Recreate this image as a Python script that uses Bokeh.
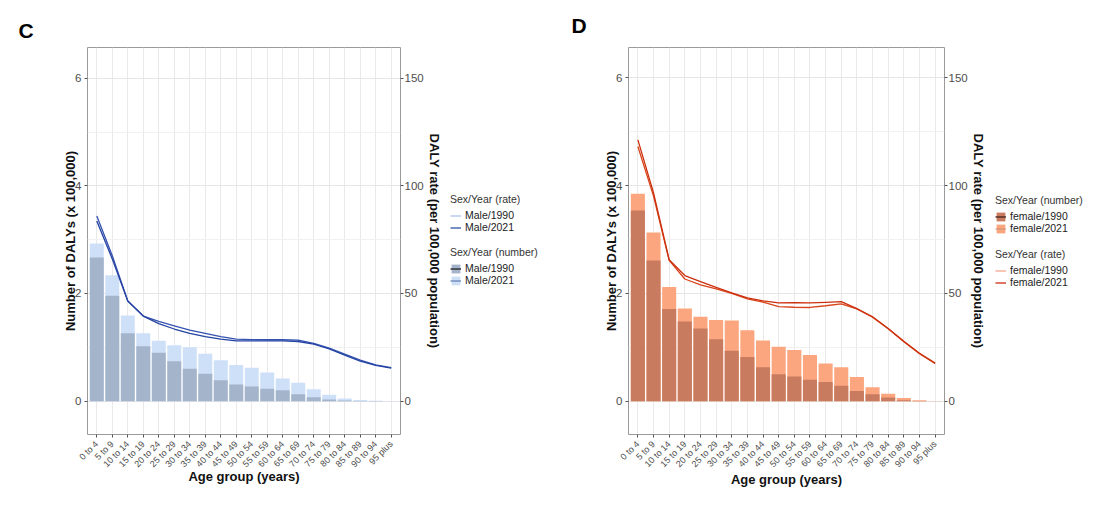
import math
from bokeh.plotting import figure
from bokeh.models import (Range1d, LinearAxis, FixedTicker, Legend, LegendItem,
                          ColumnDataSource, Title)
from bokeh.layouts import row
from bokeh.embed import file_html
from bokeh.resources import INLINE

# ---------------- data ----------------
ages = ["0 to 4", "5 to 9", "10 to 14", "15 to 19", "20 to 24", "25 to 29",
        "30 to 34", "35 to 39", "40 to 44", "45 to 49", "50 to 54", "55 to 59",
        "60 to 64", "65 to 69", "70 to 74", "75 to 79", "80 to 84", "85 to 89",
        "90 to 94", "95 plus"]

# Number of DALYs (x 100,000)
male_num_1990 = [2.67, 1.96, 1.26, 1.02, 0.90, 0.74, 0.60, 0.51, 0.39, 0.31,
                 0.27, 0.23, 0.20, 0.13, 0.07, 0.03, 0.012, 0.004, 0.001, 0.0]
male_num_2021 = [2.93, 2.34, 1.59, 1.26, 1.12, 1.04, 1.00, 0.88, 0.76, 0.67,
                 0.62, 0.53, 0.42, 0.34, 0.22, 0.12, 0.05, 0.02, 0.006, 0.001]
female_num_1990 = [3.54, 2.61, 1.71, 1.48, 1.35, 1.15, 0.94, 0.82, 0.63, 0.50,
                   0.46, 0.40, 0.36, 0.29, 0.19, 0.13, 0.07, 0.02, 0.005, 0.001]
female_num_2021 = [3.85, 3.13, 2.12, 1.72, 1.57, 1.51, 1.50, 1.32, 1.13, 1.01,
                   0.95, 0.86, 0.70, 0.63, 0.45, 0.26, 0.14, 0.06, 0.02, 0.006]

# DALY rate (per 100,000 population)
male_rate_1990 = [86.0, 67.5, 46.5, 39.5, 37.0, 35.0, 33.0, 31.5, 30.0, 28.8,
                  28.6, 28.5, 28.5, 28.3, 26.8, 24.6, 21.8, 19.0, 16.8, 15.6]
male_rate_2021 = [83.7, 66.0, 46.5, 39.5, 36.0, 33.5, 31.5, 30.0, 28.8, 28.0,
                  28.0, 28.0, 28.0, 27.7, 26.5, 24.3, 21.4, 18.6, 16.6, 15.3]
female_rate_1990 = [118.1, 95.1, 65.3, 56.7, 54.0, 52.1, 50.0, 47.5, 46.0, 43.9,
                    43.6, 43.5, 44.3, 45.2, 42.8, 39.0, 33.6, 27.6, 22.1, 17.5]
female_rate_2021 = [121.2, 96.6, 65.6, 58.3, 55.5, 52.8, 50.3, 47.9, 46.6, 45.6,
                    45.7, 45.6, 45.9, 46.2, 43.0, 39.2, 33.8, 27.8, 22.3, 17.7]

left_ticks = [0, 2, 4, 6]
left_minor = [1, 3, 5]
right_ticks = [0, 50, 100, 150]
RATE_FACTOR = 25  # secondary axis: rate = 25 x number

FONT = "Liberation Sans"
TICK_COL = "#4d4d4d"
H = 500


def panel(letter, num90, num21, rate90, rate21, cfg):
    x = list(range(len(ages)))
    src = ColumnDataSource(dict(x=x, n90=num90, n21=num21, r90=rate90, r21=rate21))
    y0, y1 = cfg["yr"]
    p = figure(width=cfg["w"], height=H, output_backend="svg",
               toolbar_location=None,
               x_range=Range1d(-0.6, len(ages) - 1 + 0.6),
               y_range=Range1d(y0, y1),
               min_border_left=cfg["bl"], min_border_right=cfg["br"],
               min_border_top=cfg["bt"], min_border_bottom=cfg["bb"])
    p.extra_y_ranges = {"rate": Range1d(y0 * RATE_FACTOR, y1 * RATE_FACTOR)}
    p.background_fill_color = "white"
    p.border_fill_color = "white"
    p.outline_line_color = "#9a9a9a"
    p.outline_line_width = 1

    t = Title(text=letter, align="left", offset=cfg["toff"], standoff=cfg["tstand"],
              text_font=FONT, text_font_size="21px", text_font_style="bold",
              text_color="#000000")
    p.title = t

    yt = FixedTicker(ticks=left_ticks, minor_ticks=left_minor)
    p.yaxis.ticker = yt
    p.ygrid.ticker = yt
    xt = FixedTicker(ticks=x)
    p.xaxis.ticker = xt
    p.xgrid.ticker = xt
    p.xaxis.major_label_overrides = {i: a for i, a in enumerate(ages)}
    p.xaxis.major_label_orientation = math.pi / 4

    ra = LinearAxis(y_range_name="rate", ticker=FixedTicker(ticks=right_ticks),
                    axis_label="DALY rate (per 100,000 population)")
    p.add_layout(ra, "right")

    for ax in [p.xaxis[0], p.yaxis[0], ra]:
        ax.axis_line_color = None
        ax.major_tick_line_color = "#555555"
        ax.major_tick_in = 0
        ax.major_tick_out = 3
        ax.minor_tick_line_color = None
        ax.major_label_text_font = FONT
        ax.major_label_text_color = TICK_COL
        ax.axis_label_text_font = FONT
        ax.axis_label_text_font_style = "bold"
        ax.axis_label_text_color = "#111111"
        ax.axis_label_text_font_size = "13px"
        ax.major_label_standoff = 2
        ax.axis_label_standoff = 0
    p.yaxis[0].major_label_text_font_size = "11.5px"
    p.yaxis[0].axis_label_standoff = -6
    ra.major_label_text_font_size = "11.5px"
    ra.major_label_standoff = 1
    p.xaxis[0].major_label_text_font_size = "9px"
    p.xaxis[0].major_label_standoff = 5
    p.xaxis[0].axis_label_standoff = cfg["xstand"]
    p.xaxis[0].axis_label = "Age group (years)"
    p.yaxis[0].axis_label = "Number of DALYs (x 100,000)"

    p.xgrid.grid_line_color = "#e9e9e9"
    p.ygrid.grid_line_color = "#e6e6e6"
    p.ygrid.minor_grid_line_color = "#f1f1f1"

    p.vbar(x="x", top="n21", bottom=0, width=0.9, source=src,
           fill_color=cfg["light"], line_color=None)
    p.vbar(x="x", top="n90", bottom=0, width=0.9, source=src,
           fill_color=cfg["dark"], line_color=None)
    p.line(x="x", y="r90", source=src, y_range_name="rate",
           line_color=cfg["line90"], line_width=1.3)
    p.line(x="x", y="r21", source=src, y_range_name="rate",
           line_color=cfg["line21"], line_width=1.3)
    return p


def legend_fig(sex, width, cfg):
    lf = figure(width=width, height=H, output_backend="svg", toolbar_location=None,
                x_range=Range1d(0, 1), y_range=Range1d(0, 1),
                x_axis_location=None, y_axis_location=None,
                min_border=0)
    lf.grid.visible = False
    lf.outline_line_color = None
    lf.background_fill_color = "white"
    lf.border_fill_color = "white"
    nan = float("nan")
    ks = ColumnDataSource(dict(x=[nan], y=[nan]))
    kb90 = lf.vbar(x="x", top="y", width=0.1, source=ks, fill_color=cfg["dark"], line_color=None)
    kb21 = lf.vbar(x="x", top="y", width=0.1, source=ks, fill_color=cfg["light"], line_color=None)
    kn90 = lf.line(x="x", y="y", source=ks, line_color=cfg["key_n90"], line_width=1.4)
    kn21 = lf.line(x="x", y="y", source=ks, line_color=cfg["key_n21"], line_width=1.0)
    kr90 = lf.line(x="x", y="y", source=ks, line_color=cfg["key_r90"], line_width=1.4)
    kr21 = lf.line(x="x", y="y", source=ks, line_color=cfg["key_r21"], line_width=1.4)

    rate_leg = Legend(title="Sex/Year (rate)", items=[
        LegendItem(label=f"{sex}/1990", renderers=[kr90]),
        LegendItem(label=f"{sex}/2021", renderers=[kr21])],
        location=cfg["leg_rate"])
    num_leg = Legend(title="Sex/Year (number)", items=[
        LegendItem(label=f"{sex}/1990", renderers=[kb90, kn90]),
        LegendItem(label=f"{sex}/2021", renderers=[kb21, kn21])],
        location=cfg["leg_num"])
    for lg in (rate_leg, num_leg):
        lg.background_fill_alpha = 0
        lg.border_line_color = None
        lg.padding = 0
        lg.margin = 0
        lg.spacing = -1
        lg.glyph_width = 11
        lg.glyph_height = 11
        lg.label_height = 11
        lg.label_standoff = 4
        lg.title_standoff = 4
        lg.label_text_font = FONT
        lg.label_text_font_size = "10.5px"
        lg.label_text_color = "#222222"
        lg.title_text_font = FONT
        lg.title_text_font_size = "10.5px"
        lg.title_text_font_style = "normal"
        lg.title_text_color = "#333333"
        lf.add_layout(lg, "center")
    return lf


left_cfg = dict(w=445, bl=87, br=45, bt=47, bb=H - 47 - 387, yr=(-0.62, 6.57),
                toff=-69, tstand=12, xstand=-7,
                light="#cde0f8", dark="#a4b4cb",
                line90="#3453b0", line21="#2443a3",
                key_r90="#b3c6ec", key_r21="#3e5fae",
                key_n90="#2b2b2b", key_n21="#4a66a8",
                leg_rate=(5, H - 241 - 58), leg_num=(5, H - 293 - 59))
right_cfg = dict(w=440, bl=78, br=46, bt=47, bb=H - 47 - 390, yr=(-0.615, 6.56),
                 toff=-57, tstand=21, xstand=-4,
                 light="#fca67f", dark="#c97b60",
                 line90="#d9441b", line21="#cc2f0c",
                 key_r90="#f7ad95", key_r21="#d13a1f",
                 key_n90="#4a2a20", key_n21="#c98e74",
                 leg_rate=(5, H - 294 - 60), leg_num=(5, H - 241 - 59))

pC = panel("C", male_num_1990, male_num_2021, male_rate_1990, male_rate_2021, left_cfg)
lC = legend_fig("Male", 105, left_cfg)
pD = panel("D", female_num_1990, female_num_2021, female_rate_1990, female_rate_2021, right_cfg)
lD = legend_fig("female", 110, right_cfg)

layout = row(pC, lC, pD, lD, spacing=0)
open("out.html", "w").write(file_html(layout, INLINE))
